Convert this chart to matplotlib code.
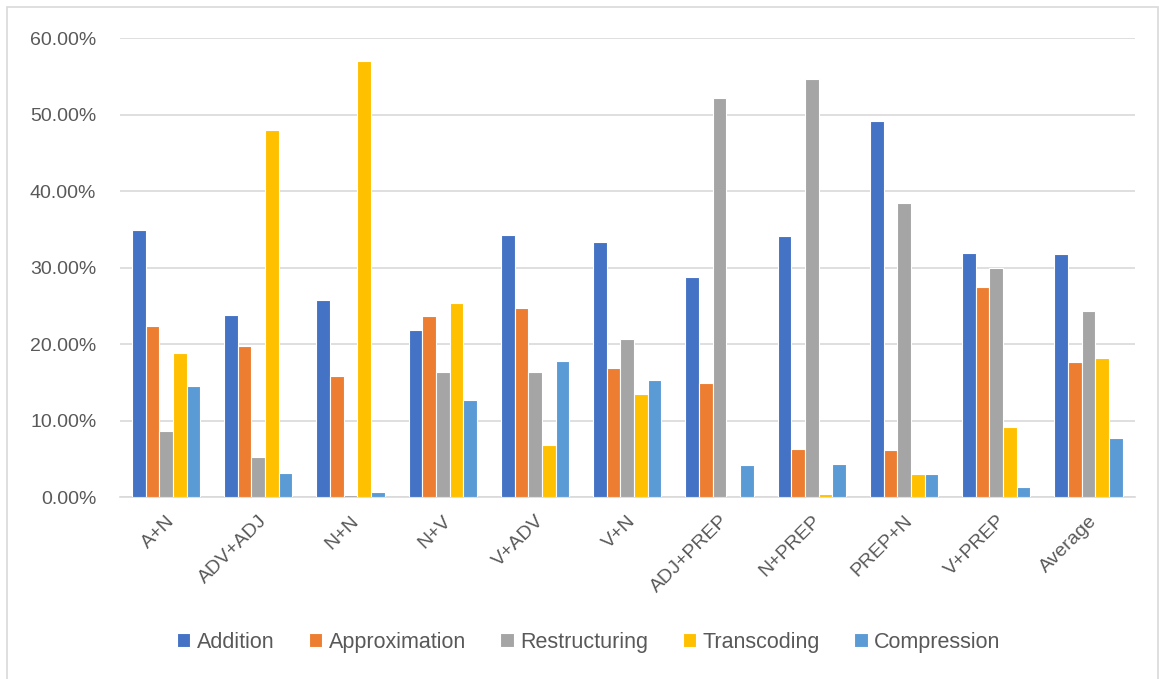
import numpy as np
import matplotlib
matplotlib.use("Agg")
import matplotlib.pyplot as plt
from matplotlib.patches import Rectangle
from matplotlib.ticker import FuncFormatter

# collocation types and the share of each translation strategy
categories = ["A+N", "ADV+ADJ", "N+N", "N+V", "V+ADV", "V+N",
              "ADJ+PREP", "N+PREP", "PREP+N", "V+PREP", "Average"]
addition = [34.85, 23.8, 25.75, 21.8, 34.2, 33.4, 28.7, 34.1, 49.2, 31.9, 31.8]
approximation = [22.3, 19.7, 15.8, 23.6, 24.7, 16.9, 14.9, 6.3, 6.1, 27.4, 17.7]
restructuring = [8.6, 5.2, 0.3, 16.3, 16.4, 20.6, 52.1, 54.6, 38.4, 29.9, 24.3]
transcoding = [18.8, 48.0, 57.0, 25.4, 6.8, 13.5, 0.0, 0.4, 3.0, 9.1, 18.2]
compression = [14.5, 3.2, 0.7, 12.7, 17.8, 15.3, 4.2, 4.35, 3.0, 1.3, 7.7]

series = [
    ("Addition", addition, "#4472C4"),
    ("Approximation", approximation, "#ED7D31"),
    ("Restructuring", restructuring, "#A5A5A5"),
    ("Transcoding", transcoding, "#FFC000"),
    ("Compression", compression, "#5B9BD5"),
]

plt.rcParams['font.family'] = ['Liberation Sans', 'DejaVu Sans']

fig = plt.figure(figsize=(11.59, 6.79), dpi=100)
# light frame round the whole chart
fig.patches.append(Rectangle((0.006, -0.01), 0.9935, 1.0, transform=fig.transFigure,
                             fill=False, edgecolor="#d9d9d9", linewidth=1.2))
ax = fig.add_axes([0.1035, 0.268, 0.8755, 0.676])

x = np.arange(len(categories))
w = 0.148
for i, (name, vals, color) in enumerate(series):
    ax.bar(x + (i - 2) * w, np.array(vals) / 100, width=w, color=color,
           edgecolor="white", linewidth=0.8, label=name, zorder=3)

ax.set_ylim(0, 0.6)
ax.set_xlim(-0.5, len(categories) - 0.5)
ax.set_yticks(np.arange(0, 0.61, 0.1))
ax.yaxis.set_major_formatter(FuncFormatter(lambda v, p: f"{v * 100:.2f}%"))
ax.grid(axis="y", color="#d9d9d9", linewidth=1.2, zorder=0)
ax.set_xticks(x)
ax.set_xticklabels(categories, rotation=45, ha="right", rotation_mode="anchor")
ax.tick_params(axis="both", length=0, colors="#595959", labelsize=14)
ax.tick_params(axis="y", pad=17)
ax.tick_params(axis="x", pad=11)
for s in ["top", "right", "left"]:
    ax.spines[s].set_visible(False)
ax.spines["bottom"].set_color("#d9d9d9")
ax.spines["bottom"].set_linewidth(1.2)

leg = fig.legend(loc="center", bbox_to_anchor=(0.508, 0.054), ncol=5, frameon=False,
                 fontsize=15.5, handlelength=0.62, handleheight=0.62, handletextpad=0.3,
                 columnspacing=1.6)
for t in leg.get_texts():
    t.set_color("#595959")

fig.savefig("out.png", dpi=100)
